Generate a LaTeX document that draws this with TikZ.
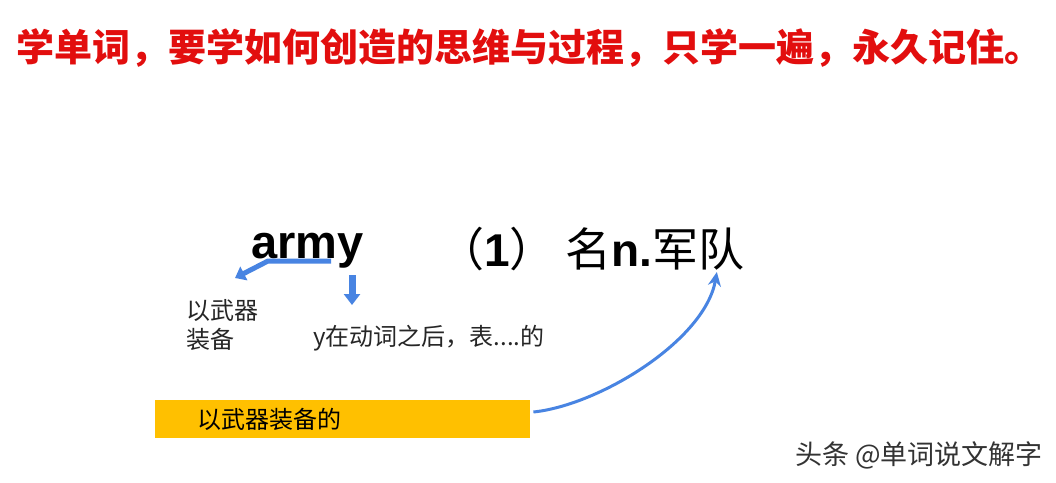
\documentclass[tikz,border=0pt]{standalone}
\usepackage{fontspec}
\setmainfont{Liberation Sans}
\newfontfamily\cjk{Noto Sans CJK SC}
\usetikzlibrary{arrows.meta,positioning}

\definecolor{TitleRed}{RGB}{226,14,14}
\definecolor{ArrowBlue}{RGB}{72,132,226}
\definecolor{BoxYellow}{RGB}{255,192,0}

\tikzset{Title/.style={inner sep=0pt,anchor=west,text=TitleRed,font=\cjk\bfseries\fontsize{38}{40}\selectfont}}
\tikzset{Word/.style={inner sep=0pt,anchor=base west,font=\bfseries\fontsize{47}{50}\selectfont}}
\tikzset{Sense/.style={inner sep=0pt,anchor=base west,font=\cjk\fontsize{46}{50}\selectfont}}
\tikzset{Note/.style={inner sep=0pt,align=left,text=black!85,font=\cjk\fontsize{24}{29}\selectfont}}
\tikzset{Box/.style={fill=BoxYellow,anchor=west,minimum width=375pt,minimum height=38pt,inner xsep=42pt,text width=291pt,align=left,font=\cjk\fontsize{24}{29}\selectfont}}
\tikzset{Stamp/.style={inner sep=0pt,anchor=west,text=black!80,font=\cjk\fontsize{27}{30}\selectfont}}
\tikzset{Bent/.style={draw=ArrowBlue,line width=5pt,-{Triangle[width=15pt,length=10pt]}}}
\tikzset{Drop/.style={draw=ArrowBlue,line width=7pt,-{Triangle[width=16pt,length=11pt]}}}
\tikzset{Curve/.style={draw=ArrowBlue,line width=3pt,-{Stealth[width=13pt,length=14pt]}}}

\begin{document}
\begin{tikzpicture}[x=1pt,y=-1pt]

\fill[white] (0,0) rectangle (1056,482);
\useasboundingbox (0,0) rectangle (1056,482);

\node[Title] (T) at (16,48) {学单词，要学如何创造的思维与过程，只学一遍，永久记住。};

\node[Word] (A) at (251,258) {army};
\node[Sense] (S) at (438,266) {（{\rmfamily\bfseries 1}）\hspace{10pt}名{\rmfamily\bfseries n.}军队};

\node[Note,anchor=north west] (N1) at (186,299) {以武器\\装备};
\node[Note,anchor=base west] (N2) at (313,345) {y在动词之后，表....的};

\node[Box] (B) at (155,419) {以武器装备的};

\node[Stamp] (W) at (795,455) {头条 @单词说文解字};

\draw[Bent] ([xshift=80pt,yshift=-3pt]A.base west) -- ([xshift=17pt,yshift=-3pt]A.base west) -- ([xshift=49pt,yshift=21pt]N1.north west);
\draw[Drop] ([xshift=101pt,yshift=-17pt]A.base west) -- ([xshift=39pt,yshift=40pt]N2.base west);
\draw[Curve] ([xshift=3pt,yshift=7pt]B.east) .. controls (600,405) and (705,340) .. ([xshift=-28pt,yshift=-6pt]S.base east);

\end{tikzpicture}
\end{document}
